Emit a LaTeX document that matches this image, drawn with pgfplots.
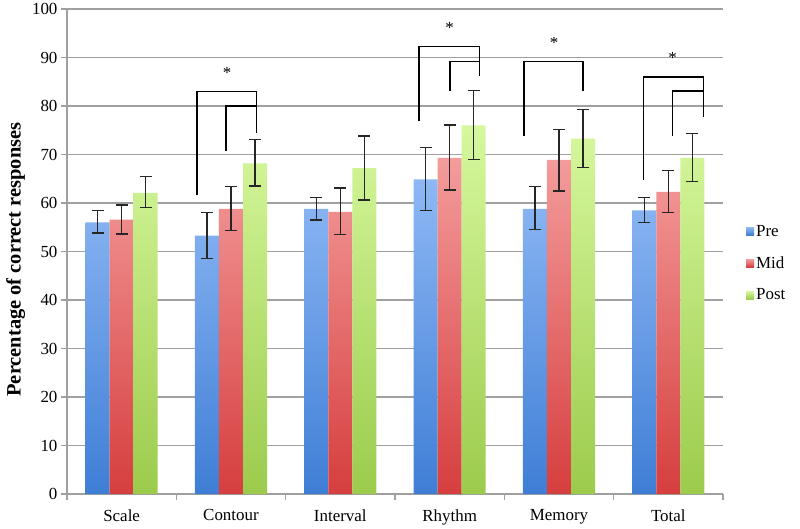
\documentclass[border=0pt]{standalone}
\usepackage{pgfplots}
\pgfplotsset{compat=1.18}
\usepackage{pgfplotstable}
\usepackage{fontspec}
\setmainfont{Liberation Serif}

\definecolor{pretop}{HTML}{8EB8F4}
\definecolor{prebot}{HTML}{3F7ED6}
\definecolor{midtop}{HTML}{F49C9C}
\definecolor{midbot}{HTML}{D63E3E}
\definecolor{posttop}{HTML}{D6F89E}
\definecolor{postbot}{HTML}{9CCB4C}
\definecolor{gridgray}{HTML}{A0A0A0}

% x: 0 Scale, 1 Contour, 2 Interval, 3 Rhythm, 4 Memory, 5 Total
\pgfplotstableread{
x y ep em
0 56.0 2.4 2.2
1 53.3 4.8 4.8
2 58.8 2.4 2.3
3 64.9 6.6 6.5
4 58.8 4.6 4.3
5 58.5 2.6 2.5
}\pre
\pgfplotstableread{
x y ep em
0 56.6 3.0 3.0
1 58.8 4.6 4.5
2 58.2 4.9 4.7
3 69.3 6.8 6.6
4 68.9 6.2 6.4
5 62.3 4.4 4.3
}\mid
\pgfplotstableread{
x y ep em
0 62.1 3.3 3.0
1 68.2 4.9 4.7
2 67.2 6.6 6.6
3 76.0 7.2 7.0
4 73.3 6.0 6.0
5 69.3 5.1 4.9
}\post

\begin{document}
\begin{tikzpicture}
\begin{axis}[
  scale only axis,
  width=656bp, height=485bp,
  xmin=-0.5, xmax=5.5,
  ymin=0, ymax=100,
  ytick={0,10,...,100},
  xtick={0,...,5},
  xticklabels={Scale,Contour,Interval,Rhythm,Memory,Total},
  minor xtick={-0.5,0.5,...,5.5},
  major x tick style={draw=none},
  minor tick length=6bp,
  major tick length=6bp,
  tick align=outside,
  axis lines*=left,
  axis line style={gridgray, line width=1.1pt},
  tick style={gridgray, line width=1.1pt},
  ymajorgrids,
  grid style={gridgray, line width=1.1pt},
  /pgf/number format/assume math mode=true,
  ticklabel style={font=\fontsize{17}{20}\selectfont},
  xticklabel style={yshift=-6bp},
  ylabel={\textbf{Percentage of correct responses}},
  ylabel style={font=\fontsize{20.5}{23}\selectfont, yshift=0bp, xshift=-8bp},
  clip=false,
  ybar, bar width=0.22,
  legend style={draw=none, fill=none, at={(1.035,0.476)}, anchor=west,
    font=\fontsize{17}{20}\selectfont, row sep=15bp, inner sep=0pt},
  legend cell align=left,
  legend image code/.code={\fill[#1] (0bp,-4bp) rectangle (8bp,4bp);},
  error bars/y dir=both, error bars/y explicit,
  error bars/error bar style={black!85, line width=1.3pt},
  error bars/error mark options={black!85, rotate=90, mark size=6bp, line width=1.3pt},
]
\addplot[draw=none, bar shift=-0.22, shading=axis, top color=pretop, bottom color=prebot]
  table[x=x, y=y, y error plus=ep, y error minus=em]{\pre};
\addplot[draw=none, bar shift=0, shading=axis, top color=midtop, bottom color=midbot]
  table[x=x, y=y, y error plus=ep, y error minus=em]{\mid};
\addplot[draw=none, bar shift=0.22, shading=axis, top color=posttop, bottom color=postbot]
  table[x=x, y=y, y error plus=ep, y error minus=em]{\post};
\legend{Pre,Mid,Post}

% significance brackets
\pgfplotsset{bracket/.style={sharp plot, black, line width=1.2pt, mark=none, forget plot, draw=black, fill=none, error bars/y dir=none}}
\addplot[bracket] coordinates {(0.69,61.6) (0.69,83.0) (1.23,83.0) (1.23,74.4)};
\addplot[bracket] coordinates {(0.955,70.7) (0.955,80.0) (1.23,80.0)};
\addplot[bracket] coordinates {(2.72,76.9) (2.72,92.2) (3.27,92.2) (3.27,86.2)};
\addplot[bracket] coordinates {(3.004,83.1) (3.004,89.1) (3.27,89.1)};
\addplot[bracket] coordinates {(3.68,73.8) (3.68,89.1) (4.22,89.1) (4.22,83.1)};
\addplot[bracket] coordinates {(4.77,64.7) (4.77,86.0) (5.32,86.0) (5.32,77.7)};
\addplot[bracket] coordinates {(5.04,73.8) (5.04,83.1) (5.32,83.1)};
\node[font=\fontsize{17}{20}\selectfont] at (axis cs:0.964,86.8) {*};
\node[font=\fontsize{17}{20}\selectfont] at (axis cs:3.0,96.0) {*};
\node[font=\fontsize{17}{20}\selectfont] at (axis cs:3.955,93.0) {*};
\node[font=\fontsize{17}{20}\selectfont] at (axis cs:5.04,89.9) {*};
% page frame
\path (rel axis cs:-0.1021,-0.0680) rectangle (rel axis cs:1.1174,1.0186);
\end{axis}
\end{tikzpicture}
\end{document}
